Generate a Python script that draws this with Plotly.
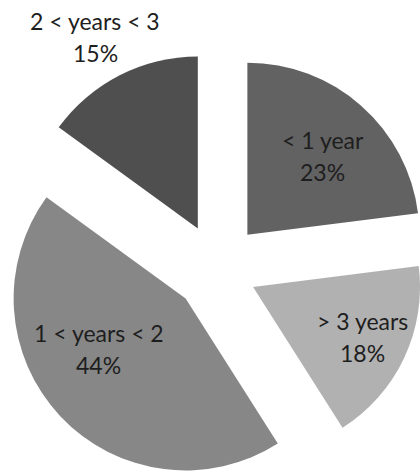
import math
import plotly.graph_objects as go

# Tenure distribution
labels = ["< 1 year", "> 3 years", "1 < years < 2", "2 < years < 3"]
shares = [23, 18, 44, 15]
colors = ["#626262", "#b1b1b1", "#878787", "#4f4f4f"]

W, H = 420, 471

# exploded pie geometry (pixels): common centre, explosion distance, radius
CX, CY = 218.0, 268.0
EXPLODE = 44.4
RADIUS = 172.0

# label line centres (pixels): (x, y of name line, y of percent line)
label_pos = [
    (322.5, 140, 172),
    (362.5, 321, 353),
    (98.5, 333, 365),
    (95.0, 21, 53),
]

total = sum(shares)
fig = go.Figure()

start = 0.0
for i, (lab, val) in enumerate(zip(labels, shares)):
    sweep = 360.0 * val / total
    mid = math.radians(start + sweep / 2)
    start += sweep
    # slice apex after being pulled out along its bisector
    ax = CX + EXPLODE * math.sin(mid)
    ay = CY - EXPLODE * math.cos(mid)
    r = RADIUS
    if ax + r > W:  # keep the domain inside the paper
        left = ax - r
        r = (W - left) / 2
        ax = left + r
    slice_colors = ["rgba(0,0,0,0)"] * len(shares)
    slice_colors[i] = colors[i]
    fig.add_trace(go.Pie(
        labels=labels,
        values=shares,
        sort=False,
        direction="clockwise",
        rotation=0,
        marker=dict(colors=slice_colors, line=dict(width=0)),
        textinfo="none",
        hoverinfo="skip",
        showlegend=False,
        domain=dict(x=[(ax - r) / W, (ax + r) / W],
                    y=[1 - (ay + r) / H, 1 - (ay - r) / H]),
    ))

font = dict(family="Lato", size=23, color="#1e1e1e")
for lab, val, (x, y1, y2) in zip(labels, shares, label_pos):
    for txt, y in ((lab, y1), (f"{val}%", y2)):
        fig.add_annotation(
            x=x / W, y=1 - y / H, xref="paper", yref="paper",
            text=txt, showarrow=False, font=font,
            xanchor="center", yanchor="middle",
        )

fig.update_layout(
    width=W, height=H,
    margin=dict(l=0, r=0, t=0, b=0),
    paper_bgcolor="white",
    plot_bgcolor="white",
)

fig.write_html("out.html")
